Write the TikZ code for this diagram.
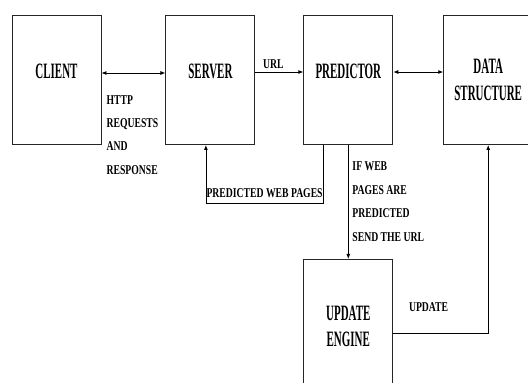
\documentclass[tikz,border=0pt]{standalone}
\usepackage{fontspec}
\newfontfamily\boxfont[FakeStretch=0.5]{Liberation Serif}
\newfontfamily\labfont[FakeStretch=0.72]{Liberation Serif}
\usetikzlibrary{arrows.meta,positioning}
\tikzset{
	blockbox/.style={rectangle, draw=black!85, line width=0.9pt, minimum width=89bp,
		minimum height=129bp, align=center, inner sep=0pt,
		font=\boxfont\bfseries\fontsize{22}{27}\selectfont},
	uptext/.style={text depth=18bp},
	flowlab/.style={align=left, inner sep=1pt, font=\labfont\bfseries\fontsize{13.5}{23.5}\selectfont},
	flowarr/.style={-{Latex[length=5bp,width=4bp]}, line width=0.8pt},
	biarr/.style={{Latex[length=5bp,width=4bp]}-{Latex[length=5bp,width=4bp]}, line width=0.8pt}
}
\begin{document}
\begin{tikzpicture}[x=1bp, y=-1bp]
	\useasboundingbox (0,0) rectangle (528,382);
	\node[blockbox, uptext] (client) at (56.5,80) {CLIENT};
	\node[blockbox, uptext, right=64bp of client] (server) {SERVER};
	\node[blockbox, uptext, right=48bp of server] (pred) {PREDICTOR};
	\node[blockbox, right=50bp of pred] (data) {DATA\\STRUCTURE};
	\node[blockbox, minimum height=134bp, below=114bp of pred] (upd) {UPDATE\\ENGINE};
	% links along the top row
	\draw[biarr] ([yshift=7bp]client.east) -- ([yshift=7bp]client.east -| server.west);
	\draw[flowarr] ([yshift=8bp]server.east) -- node[flowlab, above, pos=0.375, yshift=2bp] {URL} ([yshift=8bp]server.east -| pred.west);
	\draw[biarr] ([yshift=8bp]pred.east) -- ([yshift=8bp]pred.east -| data.west);
	\node[flowlab, below right=14bp and 4bp of client.east] (http) {HTTP\\REQUESTS\\AND\\RESPONSE};
	% feedback paths
	\draw[flowarr] ([xshift=-25bp]pred.south) -- ++(0,58) -| node[flowlab, above, pos=0.25, yshift=4bp] {PREDICTED WEB PAGES} ([xshift=-4.5bp]server.south);
	\draw[flowarr] (pred.south) -- (upd.north);
	\node[flowlab, below right=16bp and 3bp of pred.south] (ifweb) {IF WEB\\PAGES ARE\\PREDICTED\\SEND THE URL};
	\draw[flowarr] ([yshift=-7bp]upd.east) -| node[flowlab, above=20bp, pos=0.186] {UPDATE} (data.south);
\end{tikzpicture}
\end{document}
